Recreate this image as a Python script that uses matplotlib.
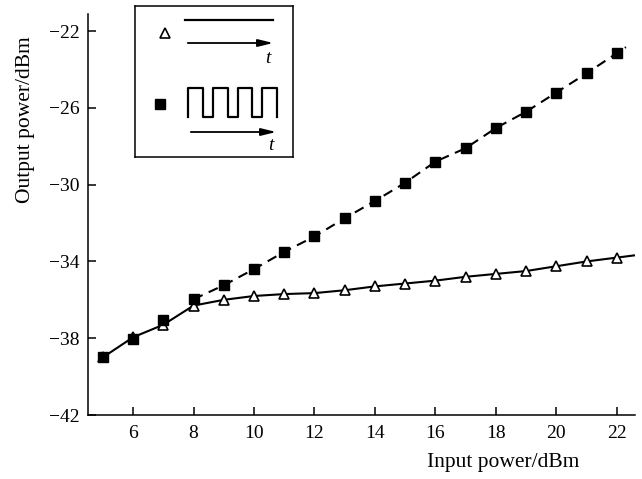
import numpy as np
import matplotlib
matplotlib.use("Agg")
import matplotlib.pyplot as plt

plt.rcParams['font.family'] = ['Liberation Serif', 'DejaVu Serif']
plt.rcParams['mathtext.fontset'] = 'stix'

# Data
x_in = [5, 6, 7, 8, 9, 10, 11, 12, 13, 14, 15, 16, 17, 18, 19, 20, 21, 22]
cw_out = [-39.0, -37.95, -37.3, -36.3, -36.0, -35.8, -35.7, -35.65, -35.5, -35.3,
          -35.15, -35.0, -34.8, -34.65, -34.5, -34.25, -34.0, -33.8]
pulse_out = [-39.0, -38.05, -37.06, -35.97, -35.24, -34.4, -33.5, -32.7, -31.75, -30.85,
             -29.9, -28.8, -28.1, -27.05, -26.2, -25.2, -24.2, -23.15]
xticks = [6, 8, 10, 12, 14, 16, 18, 20, 22]
yticks = [-42, -38, -34, -30, -26, -22]

W, H = 642, 479
fig = plt.figure(figsize=(W / 100, H / 100), dpi=100)
ax = fig.add_axes([88 / W, 1 - 415 / H, (635 - 88) / W, (415 - 14) / H])
xlim = (4.51, 22.6)
ylim = (-42, -21.11)
ax.set_xlim(*xlim)
ax.set_ylim(*ylim)

lw = 1.5
xs = np.array(x_in, dtype=float)
cw = np.array(cw_out)
slope = (cw[-1] - cw[-2]) / (xs[-1] - xs[-2])
x_ext = np.append(xs, xlim[1])
cw_ext = np.append(cw, cw[-1] + slope * (xlim[1] - xs[-1]))
ax.plot(x_ext, cw_ext, color='black', lw=lw, solid_capstyle='butt', zorder=2)

pu = np.array(pulse_out)
idx8 = x_in.index(8)
slope_p = (pu[-1] - pu[-2]) / (xs[-1] - xs[-2])
xd = np.append(xs[idx8:], 22.3)
yd = np.append(pu[idx8:], pu[-1] + slope_p * (22.3 - xs[-1]))
ax.plot(xd, yd, color='black', lw=lw, dashes=(4.8, 3.2), dash_capstyle='butt', zorder=2)

ax.plot(xs, cw, linestyle='none', marker='^', markersize=7.5, markerfacecolor='white',
        markeredgecolor='black', markeredgewidth=1.2, zorder=3)
ax.plot(xs, pu, linestyle='none', marker='s', markersize=6.5, markerfacecolor='black',
        markeredgecolor='black', zorder=4)

ax.set_xticks(xticks)
ax.set_yticks(yticks)
ax.set_yticklabels(['\u2212' + str(abs(v)) for v in yticks])
ax.tick_params(direction='in', length=5.5, width=1.1, labelsize=14)
ax.tick_params(axis='x', pad=7)
ax.tick_params(axis='y', pad=6)
for s in ['top', 'right']:
    ax.spines[s].set_visible(False)
for s in ['left', 'bottom']:
    ax.spines[s].set_linewidth(1.1)

fig.text(503 / W, 1 - 463 / H, 'Input power/dBm', ha='center', va='center', fontsize=15.5)
fig.text(26 / W, 1 - 120 / H, 'Output power/dBm', ha='center', va='center',
         rotation=90, fontsize=15.5)

# Legend box (pixel coordinate inset)
L, T, R, B = 135, 6, 293, 157
lax = fig.add_axes([L / W, 1 - B / H, (R - L) / W, (B - T) / H])
lax.set_xlim(L, R)
lax.set_ylim(B, T)
lax.set_xticks([])
lax.set_yticks([])
for s in lax.spines.values():
    s.set_linewidth(1.1)

lax.plot([165], [33], marker='^', markersize=7.5, markerfacecolor='white',
         markeredgecolor='black', markeredgewidth=1.2, linestyle='none')
lax.plot([185, 273], [20, 20], color='black', lw=1.6)
lax.annotate('', xy=(276, 43), xytext=(185, 43),
             arrowprops=dict(arrowstyle='-|>,head_length=0.9,head_width=0.22', color='black', lw=1.3))
lax.text(268, 58, 't', style='italic', fontsize=14, ha='center', va='center')

lax.plot([160], [104], marker='s', markersize=6.5, color='black', linestyle='none')
x0, hw, lwid = 188, 14.75, 10
low, high = 117, 88
wx = [x0]
wy = [low]
xc = x0
for k in range(4):
    wx += [xc, xc + hw]
    wy += [high, high]
    xc += hw
    wx.append(xc)
    wy.append(low)
    if k < 3:
        wx.append(xc + lwid)
        wy.append(low)
        xc += lwid
lax.plot(wx, wy, color='black', lw=1.6)
lax.annotate('', xy=(279, 132), xytext=(188, 132),
             arrowprops=dict(arrowstyle='-|>,head_length=0.9,head_width=0.22', color='black', lw=1.3))
lax.text(271, 146, 't', style='italic', fontsize=14, ha='center', va='center')

fig.savefig('out.png', dpi=100)
